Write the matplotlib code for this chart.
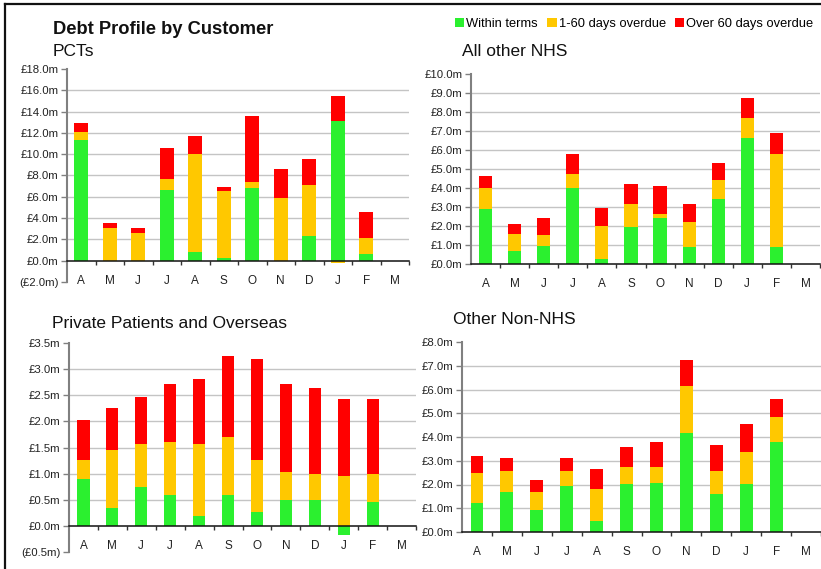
import matplotlib
matplotlib.use("Agg")
import matplotlib.pyplot as plt
from matplotlib.lines import Line2D
from matplotlib.patches import Patch
from matplotlib.ticker import FuncFormatter, FixedLocator
import numpy as np

plt.rcParams['font.family'] = ['Liberation Sans', 'DejaVu Sans']

months = ['A', 'M', 'J', 'J', 'A', 'S', 'O', 'N', 'D', 'J', 'F', 'M']
series_names = ['Within terms', '1-60 days overdue', 'Over 60 days overdue']
colors = ['#2BF02F', '#FFC800', '#FF0000']

# PCTs (£m), April..February
pct_within = [11.36, 0.0, 0.0, 6.67, 0.85, 0.22, 6.86, 0.0, 2.35, 13.15, 0.66]
pct_1_60 = [0.73, 3.07, 2.63, 1.03, 9.20, 6.35, 0.56, 5.92, 4.79, -0.19, 1.50]
pct_over60 = [0.87, 0.50, 0.47, 2.91, 1.69, 0.38, 6.20, 2.72, 2.44, 2.35, 2.44]

# All other NHS
nhs_within = [2.91, 0.67, 0.96, 4.01, 0.25, 1.96, 2.43, 0.91, 3.43, 6.64, 0.91]
nhs_1_60 = [1.10, 0.92, 0.58, 0.74, 1.76, 1.21, 0.21, 1.31, 1.00, 1.05, 4.89]
nhs_over60 = [0.63, 0.53, 0.89, 1.05, 0.95, 1.05, 1.48, 0.95, 0.89, 1.05, 1.10]

# Private Patients and Overseas
pp_within = [0.89, 0.35, 0.75, 0.60, 0.18, 0.60, 0.27, 0.50, 0.50, -0.17, 0.45]
pp_1_60 = [0.38, 1.11, 0.81, 1.00, 1.38, 1.11, 1.00, 0.54, 0.50, 0.95, 0.55]
pp_over60 = [0.75, 0.79, 0.90, 1.11, 1.26, 1.55, 1.92, 1.67, 1.63, 1.47, 1.42]

# Other Non-NHS
non_within = [1.21, 1.67, 0.91, 1.92, 0.45, 2.01, 2.05, 4.15, 1.59, 2.01, 3.78]
non_1_60 = [1.26, 0.88, 0.76, 0.63, 1.35, 0.71, 0.67, 1.98, 0.96, 1.34, 1.05]
non_over60 = [0.72, 0.55, 0.51, 0.55, 0.84, 0.84, 1.06, 1.10, 1.10, 1.18, 0.76]

pct_ticks = [-2, 0, 2, 4, 6, 8, 10, 12, 14, 16, 18]
nhs_ticks = [0, 1, 2, 3, 4, 5, 6, 7, 8, 9, 10]
pp_ticks = [-0.5, 0, 0.5, 1.0, 1.5, 2.0, 2.5, 3.0, 3.5]
non_ticks = [0, 1, 2, 3, 4, 5, 6, 7, 8]

W, H = 821, 569
fig = plt.figure(figsize=(W / 100, H / 100), dpi=100)


def fmt(v, pos):
    if v < 0:
        return '(£%.1fm)' % abs(v)
    return '£%.1fm' % v


def panel(rect_px, title, title_px, data, ticks, width):
    l, r, t, b = rect_px
    ax = fig.add_axes([l / W, 1 - b / H, (r - l) / W, (b - t) / H])
    x = np.arange(len(data[0]))
    pos = np.zeros(len(x))
    neg = np.zeros(len(x))
    for vals, c in zip(data, colors):
        v = np.array(vals, dtype=float)
        bottom = np.where(v >= 0, pos, neg)
        ax.bar(x, v, width=width, bottom=bottom, color=c, linewidth=0, zorder=3)
        pos = pos + np.where(v >= 0, v, 0)
        neg = neg + np.where(v < 0, v, 0)
    ax.set_xlim(-0.5, len(months) - 0.5)
    ax.set_ylim(ticks[0], ticks[-1])
    for tv in ticks[1:-1]:
        if tv > 0:
            ax.axhline(tv, color='#C4C4C4', lw=1.0, zorder=1)
    ax.yaxis.set_major_locator(FixedLocator(ticks))
    ax.yaxis.set_major_formatter(FuncFormatter(fmt))
    ax.tick_params(axis='y', direction='out', length=4, width=1, color='#808080',
                   labelsize=8.2, labelcolor='#222222', pad=2)
    ax.set_xticks(np.arange(len(months)) + 0.5)
    ax.set_xticklabels([])
    ax.set_xticks(np.arange(len(months)), minor=True)
    ax.set_xticklabels(months, minor=True)
    ax.tick_params(axis='x', which='major', direction='out', length=3, width=1, color='#333333')
    ax.tick_params(axis='x', which='minor', length=0, labelsize=8.5, pad=10, labelcolor='#222222')
    for s in ['top', 'right']:
        ax.spines[s].set_visible(False)
    ax.spines['left'].set_color('#808080')
    ax.spines['left'].set_linewidth(1.5)
    ax.spines['bottom'].set_position(('data', 0))
    ax.spines['bottom'].set_color('#111111')
    ax.spines['bottom'].set_linewidth(1.1)
    ax.spines['bottom'].set_zorder(4)
    fig.text(title_px[0] / W, 1 - title_px[1] / H, title, fontsize=12.5,
             ha='left', va='center', color='#111111')
    return ax


panel((67, 409, 69, 282), 'PCTs', (53, 52),
      [pct_within, pct_1_60, pct_over60], pct_ticks, 0.49)
panel((471, 820, 74, 264), 'All other NHS', (462, 52),
      [nhs_within, nhs_1_60, nhs_over60], nhs_ticks, 0.45)
panel((69, 416, 343, 552), 'Private Patients and Overseas', (52, 323),
      [pp_within, pp_1_60, pp_over60], pp_ticks, 0.42)
panel((462, 821, 342, 532), 'Other Non-NHS', (453, 319),
      [non_within, non_1_60, non_over60], non_ticks, 0.43)

fig.text(53 / W, 1 - 29 / H, 'Debt Profile by Customer', fontsize=13.2,
         fontweight='bold', ha='left', va='center', color='#111111')

handles = [Patch(facecolor=c, edgecolor='none') for c in colors]
fig.legend(handles, series_names, loc='center right', bbox_to_anchor=(1 - 5 / W, 1 - 24 / H),
           ncol=3, frameon=False, fontsize=9.3, handlelength=0.75, handleheight=0.75,
           handletextpad=0.15, columnspacing=0.7, borderaxespad=0, borderpad=0.2)

# outer frame lines (top and left)
fig.add_artist(Line2D([5 / W, 1.0], [1 - 4 / H, 1 - 4 / H], color='#111111', lw=1.6,
                      transform=fig.transFigure))
fig.add_artist(Line2D([5 / W, 5 / W], [0.0, 1 - 4 / H], color='#111111', lw=1.6,
                      transform=fig.transFigure))

fig.savefig('out.png', dpi=100)
